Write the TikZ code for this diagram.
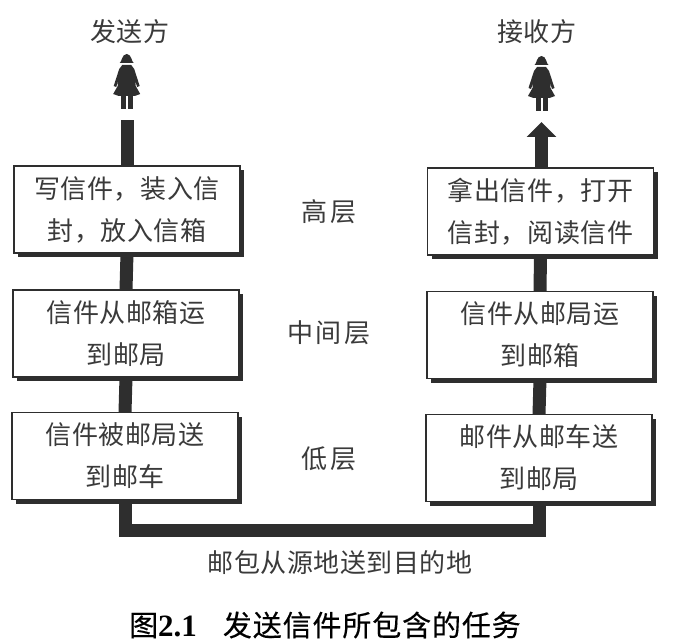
\documentclass[tikz,border=0pt]{standalone}
\usepackage{fontspec}
\usetikzlibrary{arrows.meta,shadows}
\newfontfamily\hanbody[LetterSpace=2]{Noto Sans CJK SC}
\newfontfamily\hanwide[LetterSpace=11]{Noto Sans CJK SC}
\newfontfamily\hancap[LetterSpace=3,FakeBold=0.3]{Noto Sans CJK SC}
\newfontfamily\capdigits{Liberation Serif}
\definecolor{ink}{HTML}{2E2E2E}
\definecolor{txt}{HTML}{3A3A3A}
\tikzset{
  layerbox/.style={draw=ink,line width=1.3pt,fill=white,minimum width=226pt,minimum height=87pt,
    inner sep=0pt,outer sep=0pt,align=center,text=txt,
    font=\hanbody\fontsize{26}{42}\selectfont,
    general shadow={fill=ink,shadow xshift=4pt,shadow yshift=-4pt}},
  pipe/.style={draw=ink,line width=13pt,miter limit=10},
  lbl/.style={inner sep=0pt,text=txt,font=\hanbody\fontsize{26}{30}\selectfont},
  widelbl/.style={inner sep=0pt,text=txt,font=\hanwide\fontsize{26}{30}\selectfont},
  captxt/.style={inner sep=0pt,text=black,font=\hancap\fontsize{29}{32}\selectfont},
  person/.pic={
    \fill[ink] (-7,9) .. controls (-5,8.5) and (-5,0) .. (0,0) .. controls (5,0) and (5,8.5) .. (7,9) -- cycle;
    \fill[ink] (-4.5,11) -- (4.5,11) -- (7.5,15) -- (13,32) -- (10.5,33) -- (8.5,27) -- (9,32) -- (13.5,40)
       -- (8,42) -- (-8,42) -- (-13.5,40) -- (-9,32) -- (-8.5,27) -- (-10.5,33) -- (-13,32) -- (-7.5,15) -- cycle;
    \fill[ink] (-6,42) rectangle (-1,55);
    \fill[ink] (1,42) rectangle (6,55);
  }
}
\begin{document}
\begin{tikzpicture}[x=1pt,y=-1pt]
\useasboundingbox (0,0) rectangle (679,644);
% sender column
\node[layerbox] (s1) at (127,209.5) {写信件，装入信\\封，放入信箱};
\node[layerbox] (s2) at (126,333.5) {信件从邮箱运\\到邮局};
\node[layerbox] (s3) at (125,456) {信件被邮局送\\到邮车};
% receiver column
\node[layerbox] (r1) at (540.5,211.5) {拿出信件，打开\\信封，阅读信件};
\node[layerbox] (r2) at (540,335) {信件从邮局运\\到邮箱};
\node[layerbox] (r3) at (539,458) {邮件从邮车送\\到邮局};
% layer names
\node[widelbl] (hi) at (329,212) {高层};
\node[widelbl] (mid) at (329,333) {中间层};
\node[widelbl] (lo) at (329,459) {低层};
% end points
\node[lbl] (snd) at (130,32) {发送方};
\node[lbl] (rcv) at (537,32) {接收方};
\pic at (126.7,54) {person};
\pic at (541.5,56) {person};
% paths between the layers
\coordinate (stop) at (126.5,120);
\coordinate (rtip) at (541.5,122);
\coordinate (bus) at (330,530.5);
\draw[pipe] (s1.north) -- (s1.north |- stop);
\draw[pipe] (s1.south) -- (s2.north);
\draw[pipe] (s2.south) -- (s3.north);
\draw[pipe] (s3.south) -- (s3.south |- bus) -- (r3.south |- bus) -- (r3.south);
\draw[pipe] (r3.north) -- (r2.south);
\draw[pipe] (r2.north) -- (r1.south);
\draw[pipe,-{Triangle[length=15pt,width=29pt]}] (rtip |- r1.north) -- (rtip);
% texts under the diagram
\node[lbl] (route) at (340,563) {邮包从源地送到目的地};
\node[captxt,anchor=west] (cap) at (129,625) {图{\capdigits\bfseries\fontsize{31}{32}\selectfont 2.1}\hspace{26pt}发送信件所包含的任务};
\end{tikzpicture}
\end{document}
